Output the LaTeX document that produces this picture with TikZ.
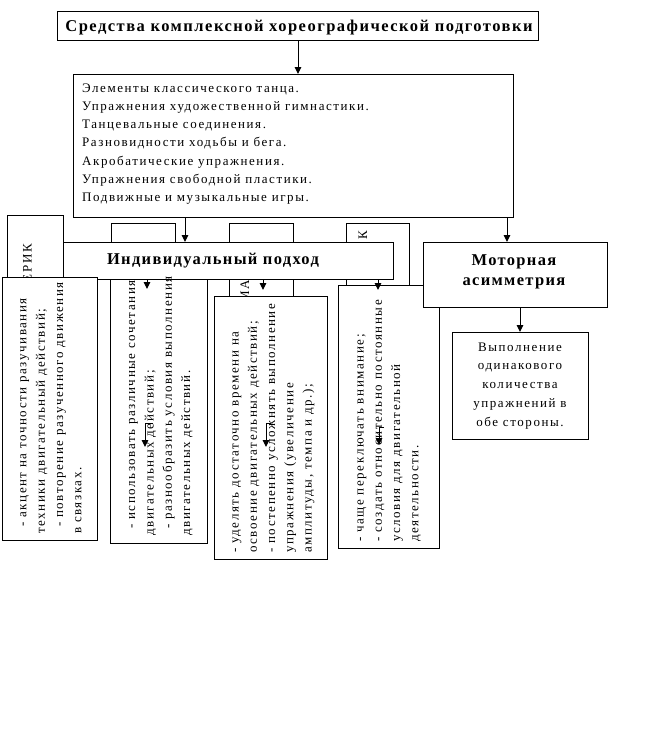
\documentclass[tikz,border=0pt]{standalone}
\usepackage{fontspec}
\setmainfont{Liberation Serif}
\newfontfamily\spfont[LetterSpace=12]{Liberation Serif}
\newfontfamily\spbfont[LetterSpace=8]{Liberation Serif}
\newfontfamily\sptfont[LetterSpace=9]{Liberation Serif}
\usetikzlibrary{arrows.meta}
\tikzset{
  box/.style={draw, line width=1pt, fill=white, inner sep=0pt, outer sep=0pt, anchor=north west},
  arr/.style={line width=1pt, -{Triangle[length=7pt,width=6.5pt]}},
  body/.style={font=\fontsize{13}{18.3}\spfont, inner sep=0pt},
  vtxt/.style={font=\fontsize{13}{18.3}\spfont, inner sep=0pt, rotate=90, anchor=base west},
  frag/.style={font=\fontsize{13}{18.3}\spfont, inner sep=0pt, rotate=90, anchor=base east},
  head/.style={font=\fontsize{16.5}{20}\spbfont\bfseries, inner sep=0pt, anchor=base},
  title/.style={font=\fontsize{16.5}{20}\sptfont\bfseries, inner sep=0pt, anchor=base},
}
\begin{document}
\begin{tikzpicture}[x=1pt,y=-1pt]
\useasboundingbox[fill=white] (0,0) rectangle (647,740);
% hidden boxes
\node[box, minimum width=56pt, minimum height=85pt] (hid1) at (7,215) {};
\node[box, minimum width=64pt, minimum height=77pt] (hid2) at (111,223) {};
\node[box, minimum width=64pt, minimum height=77pt] (hid3) at (229,223) {};
\node[box, minimum width=63pt, minimum height=70pt] (hid4) at (346,223) {};
\node[frag] (f1) at (31.5,244) {ЕРИК};
\node[frag] (f3) at (249,280) {МА};
\node[frag] (f4) at (367,231) {К};
% top
\node[box, minimum width=481pt, minimum height=29pt] (top) at (57,11) {};
\node[title] (toptxt) at (299,31) {Средства комплексной хореографической подготовки};
% box 2
\node[box, minimum width=440pt, minimum height=143pt] (box2) at (73,74) {};
\foreach \t [count=\i from 0] in {Элементы классического танца.,Упражнения художественной гимнастики.,Танцевальные соединения.,Разновидности ходьбы и бега.,Акробатические упражнения.,Упражнения свободной пластики.,Подвижные и музыкальные игры.}
  \node[body, anchor=base west] (b2l\i) at (82,92+18.33*\i) {\t};
% individual
\node[box, minimum width=330pt, minimum height=37pt] (ind) at (63,242) {};
\node[head] (indtxt) at (213,264) {Индивидуальный подход};
% lower boxes
\node[box, minimum width=95pt, minimum height=263pt] (L1) at (2,277) {};
\node[box, minimum width=97pt, minimum height=264pt] (L2) at (110,279) {};
\node[box, minimum width=113pt, minimum height=263pt] (L3) at (214,296) {};
\node[box, minimum width=101pt, minimum height=263pt] (L4) at (338,285) {};
\node[vtxt] (l1t0) at (26.5,527) {- акцент на точности разучивания};
\node[vtxt] (l1t1) at (44.8,534) {техники двигательный действий;};
\node[vtxt] (l1t2) at (63.1,527) {- повторение разученного движения};
\node[vtxt] (l1t3) at (81.4,534) {в связках.};
\node[vtxt] (l2t0) at (135.2,529) {- использовать различные сочетания};
\node[vtxt] (l2t1) at (153.5,536) {двигательных действий;};
\node[vtxt] (l2t2) at (171.8,529) {- разнообразить условия выполнения};
\node[vtxt] (l2t3) at (190.1,536) {двигательных действий.};
\foreach \t [count=\i from 0] in {- уделять достаточно времени на,освоение двигательных действий;,- постепенно усложнять выполнение,упражнения (увеличение,{амплитуды, темпа и др.);}}
  \node[vtxt] (l3t\i) at (238.5+18.3*\i,553) {\t};
\foreach \t [count=\i from 0] in {- чаще переключать внимание;,- создать относительно постоянные,условия для двигательной,деятельности.}
  \node[vtxt] (l4t\i) at (363.5+18.3*\i,542) {\t};
% motor
\node[box, minimum width=184pt, minimum height=65pt] (mot) at (423,242) {};
\node[head] (mot1) at (514,265.5) {Моторная};
\node[head] (mot2) at (514,285.5) {асимметрия};
\node[box, minimum width=136pt, minimum height=107pt] (vyp) at (452,332) {};
\foreach \t [count=\i from 0] in {Выполнение,одинакового,количества,упражнений в,обе стороны.}
  \node[body, anchor=base] (vl\i) at (520,351+18.8*\i) {\t};
% connectors
\coordinate (c0) at (298,0);
\coordinate (c1) at (185,0);
\coordinate (c2) at (507,0);
\draw[arr] (top.south -| c0) -- (box2.north -| c0);
\draw[arr] (box2.south -| c1) -- (ind.north -| c1);
\draw[arr] (box2.south -| c2) -- (mot.north -| c2);
\draw[arr] (mot.south -| vyp.north) -- (vyp.north);
\coordinate (t2) at (147,289);
\coordinate (t3) at (263,290);
\coordinate (t4) at (378,290);
\draw[arr] (ind.south -| t2) -- (t2);
\draw[arr] (ind.south -| t3) -- (t3);
\draw[arr] (ind.south -| t4) -- (t4);
\coordinate (e2a) at (153,423); \coordinate (e2b) at (145,447);
\coordinate (e3a) at (271,423); \coordinate (e3b) at (266,447);
\coordinate (e4a) at (384,427); \coordinate (e4b) at (379,445);
\draw[arr] (e2a) -| (e2b);
\draw[arr] (e3a) -| (e3b);
\draw[arr] (e4a) -| (e4b);
\end{tikzpicture}
\end{document}
